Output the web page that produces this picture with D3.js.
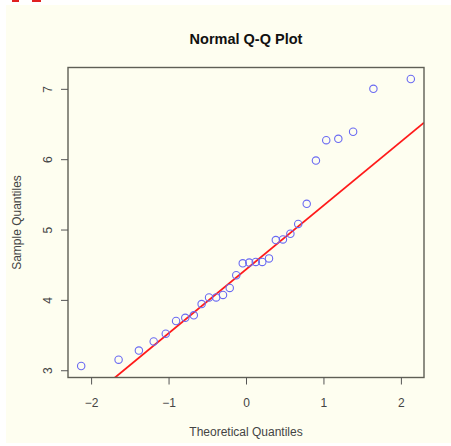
<!DOCTYPE html>
<html lang="en">
<head>
    <meta charset="UTF-8">
    <script src="https://d3js.org/d3.v7.min.js"></script>
    <title>Normal Q-Q Plot</title>
    <style>
        body { margin: 0; background: #fff; }
        text { font-family: "Liberation Sans", Arial, sans-serif; fill: #3a3a3a; }
        .tick line { stroke: #555; stroke-width: 1; }
    </style>
</head>
<body>
    <div id="container"></div>
    <script>
        // theoretical quantiles (x) and sorted sample values (y)
        var theoretical = [-2.128, -1.645, -1.383, -1.192, -1.036, -0.903, -0.784, -0.674, -0.573, -0.477,
            -0.385, -0.297, -0.210, -0.126, -0.042, 0.042, 0.126, 0.210, 0.297, 0.385,
            0.477, 0.573, 0.674, 0.784, 0.903, 1.036, 1.192, 1.383, 1.645, 2.128];
        var sample = [3.06, 3.15, 3.28, 3.41, 3.52, 3.70, 3.745, 3.78, 3.94, 4.035,
            4.035, 4.07, 4.17, 4.35, 4.52, 4.53, 4.54, 4.54, 4.59, 4.85,
            4.86, 4.94, 5.08, 5.365, 5.98, 6.27, 6.29, 6.39, 7.00, 7.14];
        var xTicks = [-2, -1, 0, 1, 2];
        var yTicks = [3, 4, 5, 6, 7];

        var W = 451, H = 446;
        var plot = { left: 68, right: 424, top: 67.5, bottom: 377.5 };

        // R pads the data range by 4% on each side
        function padded(ext) {
            var d = (ext[1] - ext[0]) * 0.04;
            return [ext[0] - d, ext[1] + d];
        }
        var x = d3.scaleLinear().domain(padded(d3.extent(theoretical))).range([plot.left, plot.right]);
        var y = d3.scaleLinear().domain(padded(d3.extent(sample))).range([plot.bottom, plot.top]);

        var svg = d3.select("#container").append("svg")
            .attr("width", W)
            .attr("height", H);

        // page background
        svg.append("rect").attr("x", 6).attr("y", 5).attr("width", W - 6).attr("height", 438).attr("fill", "#fefef0");
        svg.append("rect").attr("x", 12).attr("y", 0).attr("width", 7).attr("height", 2).attr("fill", "#e02020");
        svg.append("rect").attr("x", 32).attr("y", 0).attr("width", 9).attr("height", 2).attr("fill", "#e02020");

        var points = theoretical.map(function (q, i) { return { q: q, v: sample[i] }; });

        // qqline through the first and third quartiles
        var q1 = d3.quantile(sample, 0.25), q3 = d3.quantile(sample, 0.75);
        var z = 0.6744898;
        var slope = (q3 - q1) / (2 * z);
        var intercept = q1 + z * slope;

        svg.append("defs").append("clipPath").attr("id", "clip")
            .append("rect")
            .attr("x", plot.left).attr("y", plot.top)
            .attr("width", plot.right - plot.left).attr("height", plot.bottom - plot.top);

        var xd = x.domain();
        svg.append("line")
            .attr("clip-path", "url(#clip)")
            .attr("x1", x(xd[0])).attr("y1", y(intercept + slope * xd[0]))
            .attr("x2", x(xd[1])).attr("y2", y(intercept + slope * xd[1]))
            .attr("stroke", "#ff1a1a")
            .attr("stroke-width", 1.8);

        svg.selectAll("circle.pt")
            .data(points)
            .enter().append("circle")
            .attr("class", "pt")
            .attr("cx", function (d) { return x(d.q); })
            .attr("cy", function (d) { return y(d.v); })
            .attr("r", 3.7)
            .attr("fill", "none")
            .attr("stroke", "#6a6af2")
            .attr("stroke-width", 1.1);

        // box around the plot region
        svg.append("rect")
            .attr("x", plot.left).attr("y", plot.top)
            .attr("width", plot.right - plot.left).attr("height", plot.bottom - plot.top)
            .attr("fill", "none")
            .attr("stroke", "#5f5f55")
            .attr("stroke-width", 1.4);

        // x axis
        var gx = svg.append("g")
            .attr("transform", "translate(0," + plot.bottom + ")")
            .call(d3.axisBottom(x).tickValues(xTicks).tickSize(7).tickSizeOuter(0).tickFormat(d3.format("d")));
        gx.select(".domain").remove();
        gx.selectAll("text")
            .attr("y", 25)
            .attr("dy", "0.35em")
            .attr("font-size", "12px")
            .attr("font-family", null)
            .style("fill", "#444");

        // y axis, labels turned like R (las = 0)
        var gy = svg.append("g")
            .attr("transform", "translate(" + plot.left + ",0)")
            .call(d3.axisLeft(y).tickValues(yTicks).tickSize(7).tickSizeOuter(0).tickFormat(d3.format("d")));
        gy.select(".domain").remove();
        gy.selectAll("text")
            .attr("x", 0).attr("y", 0)
            .attr("dy", "0.35em")
            .attr("text-anchor", "middle")
            .attr("transform", "translate(-20,0) rotate(-90)")
            .attr("font-size", "12px")
            .attr("font-family", null)
            .style("fill", "#444");

        svg.append("text")
            .attr("x", (plot.left + plot.right) / 2)
            .attr("y", 38.5)
            .attr("dy", "0.35em")
            .attr("text-anchor", "middle")
            .attr("font-size", "14.5px")
            .attr("font-weight", "bold")
            .style("fill", "#111")
            .text("Normal Q-Q Plot");

        svg.append("text")
            .attr("x", (plot.left + plot.right) / 2)
            .attr("y", 432)
            .attr("dy", "0.35em")
            .attr("text-anchor", "middle")
            .attr("font-size", "12px")
            .style("fill", "#444")
            .text("Theoretical Quantiles");

        svg.append("text")
            .attr("transform", "translate(17," + (plot.top + plot.bottom) / 2 + ") rotate(-90)")
            .attr("dy", "0.35em")
            .attr("text-anchor", "middle")
            .attr("font-size", "12px")
            .style("fill", "#444")
            .text("Sample Quantiles");
    </script>
</body>
</html>
